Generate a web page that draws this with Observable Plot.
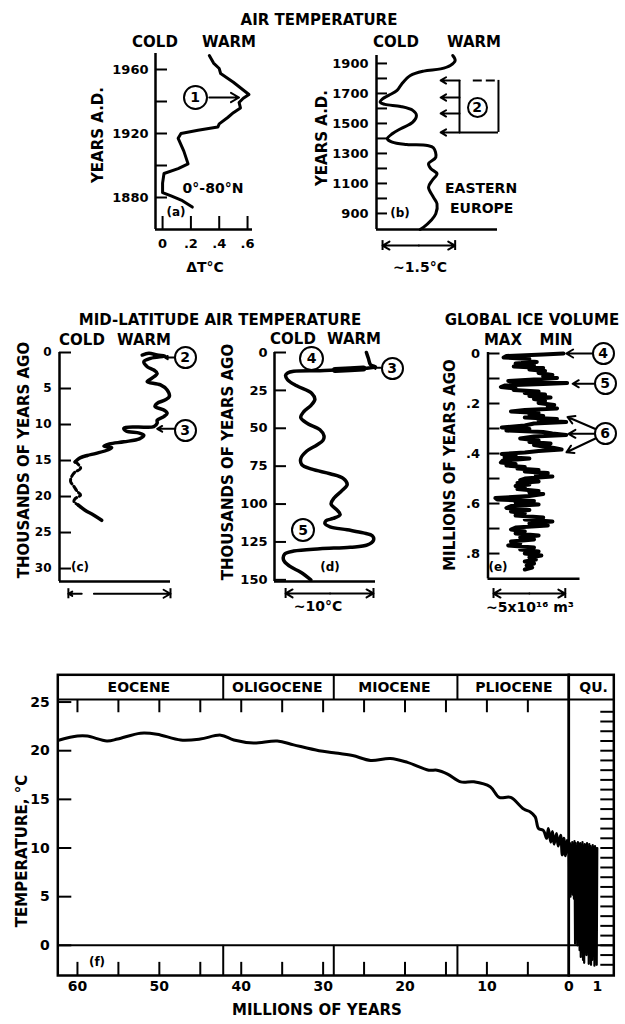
<!DOCTYPE html>
<html><head><meta charset="utf-8">
<script src="https://cdn.jsdelivr.net/npm/d3@7"></script>
<script src="https://cdn.jsdelivr.net/npm/@observablehq/plot@0.6"></script>
<style>
body{margin:0;background:#fff;}
#page{position:relative;width:625px;height:1024px;overflow:hidden;font-family:"DejaVu Sans",sans-serif;font-weight:bold;color:#000;background:#fff;}
.lbl{position:absolute;white-space:nowrap;line-height:1;}
.circ{position:absolute;border:2.5px solid #000;border-radius:50%;background:#fff;display:flex;align-items:center;justify-content:center;box-sizing:border-box;font-size:14px;line-height:1;}
</style></head><body><div id="page"></div>
<script>
// ---------------- DATA ----------------
// (a) 0-80N air temperature anomaly
const aYears  = [1968.75,1964,1960.6,1957.5,1952,1944.4,1942,1939.4,1936,1933,1930,1926,1924,1922,1920,1917,1909,1901,1898,1895,1889,1883,1881,1878,1874];
const aDeltaT = [0.33,0.36,0.40,0.41,0.50,0.61,0.57,0.54,0.55,0.50,0.46,0.40,0.39,0.25,0.13,0.11,0.15,0.18,0.11,0.01,0.00,0.00,0.06,0.14,0.21];
const aYearTicks = [1960,1940,1920,1900,1880];
const aYearLabels = [1960,1920,1880];
const aTempTicks = [0,0.2,0.4,0.6];
// (b) Eastern Europe (relative warmth 0..1)
const bYears  = [1953,1920,1887,1864,1849,1820,1765,1720,1687,1664,1642,1627,1613,1587,1553,1509,1465,1431,1398,1375,1360,1353,1338,1275,1231,1198,1165,1120,1075,1009,965,898,853,809,793];
const bWarmth = [0.63,0.65,0.61,0.53,0.39,0.28,0.21,0.17,0.10,0.05,0.03,0.07,0.20,0.30,0.33,0.30,0.20,0.13,0.09,0.13,0.25,0.42,0.47,0.49,0.43,0.45,0.50,0.46,0.43,0.47,0.50,0.49,0.45,0.39,0.36];
const bTicks = [900,1000,1100,1200,1300,1400,1500,1600,1700,1800,1900];
const bLabels = [900,1100,1300,1500,1700,1900];
const bMarkedYears = [1787,1673,1567,1440];
// (c) mid-latitude air temperature, last 25 kyr [kyr ago, warmth]
const cWarm = [[0.35,0.745],[0.12,0.805],[0.35,0.88],[0.49,0.95],[0.81,0.82],[1.27,0.76],[1.97,0.79],[2.43,0.85],[2.9,0.88],[3.6,0.83],[4.05,0.79],[4.5,0.91],[5.2,0.97],[6.1,0.99],[6.6,0.95],[7.06,0.88],[7.5,0.86],[7.99,0.94],[8.45,0.97],[8.9,0.94],[9.4,0.88],[9.8,0.88],[10.3,0.85],[10.35,0.70],[10.5,0.58],[10.9,0.60],[11.2,0.72],[11.5,0.76],[12.0,0.72],[12.4,0.58],[12.7,0.45],[13.0,0.40],[13.2,0.47],[13.5,0.44],[14.0,0.33],[14.3,0.25],[14.6,0.19],[14.9,0.16],[15.2,0.14]];
const cGlacial = [[15.2,0.14],[15.4,0.16],[16.1,0.19],[16.6,0.14],[17.2,0.11],[17.9,0.10],[18.6,0.13],[19.3,0.16],[19.8,0.19],[20.3,0.14],[20.7,0.13],[21.2,0.17]];
const cEnd = [[21.2,0.17],[21.9,0.23],[22.6,0.31],[23.3,0.38]];
const cTicks = [0,5,10,15,20,25,30];
// (d) mid-latitude air temperature, last 150 kyr [kyr ago, warmth]
const dCurve = [[0,0.91],[4,0.93],[8,0.95],[9.5,1.0],[10,0.95],[10.5,0.88],[11,0.75],[11.5,0.60],[12,0.45],[12.4,0.19],[13.5,0.13],[15,0.11],[18,0.13],[22,0.22],[27,0.37],[31,0.40],[35,0.36],[39,0.29],[43,0.26],[47,0.33],[51,0.45],[55,0.49],[58,0.48],[61,0.42],[65,0.32],[70,0.26],[74,0.27],[77,0.37],[80,0.55],[83,0.68],[87,0.72],[91,0.67],[96,0.59],[100,0.56],[104,0.62],[107,0.65],[109.5,0.58],[111,0.51],[113,0.50],[115,0.55],[117,0.72],[119,0.88],[121,0.97],[124,0.98],[127,0.92],[128.5,0.75],[129.5,0.45],[131,0.19],[133,0.10],[137,0.09],[141,0.15],[145,0.26],[150,0.36]];
const dTicks = [0,25,50,75,100,125,150];
// (e) global ice volume [Myr ago, 0=max ice .. 1=min ice]
const eCurve = [[0.000,0.82],[0.004,0.60],[0.010,0.20],[0.016,0.17],[0.022,0.45],[0.028,0.38],[0.034,0.53],[0.040,0.30],[0.046,0.50],[0.052,0.28],[0.058,0.60],[0.064,0.45],[0.070,0.62],[0.078,0.55],[0.086,0.70],[0.092,0.60],[0.098,0.75],[0.104,0.50],[0.110,0.22],[0.114,0.40],[0.118,0.86],[0.122,0.60],[0.128,0.18],[0.134,0.14],[0.140,0.30],[0.146,0.28],[0.152,0.55],[0.158,0.40],[0.164,0.62],[0.170,0.45],[0.176,0.68],[0.182,0.50],[0.190,0.62],[0.198,0.55],[0.206,0.72],[0.214,0.65],[0.220,0.75],[0.226,0.40],[0.232,0.25],[0.238,0.55],[0.244,0.45],[0.250,0.60],[0.256,0.40],[0.262,0.75],[0.268,0.55],[0.274,0.85],[0.280,0.50],[0.288,0.40],[0.296,0.15],[0.302,0.45],[0.308,0.20],[0.314,0.60],[0.320,0.70],[0.326,0.85],[0.332,0.50],[0.340,0.35],[0.348,0.55],[0.354,0.45],[0.360,0.68],[0.366,0.50],[0.372,0.60],[0.378,0.72],[0.384,0.80],[0.390,0.55],[0.396,0.40],[0.402,0.15],[0.408,0.30],[0.414,0.18],[0.420,0.45],[0.428,0.16],[0.436,0.14],[0.442,0.30],[0.448,0.20],[0.454,0.40],[0.460,0.32],[0.466,0.55],[0.472,0.40],[0.478,0.65],[0.486,0.52],[0.492,0.70],[0.500,0.40],[0.506,0.35],[0.512,0.55],[0.518,0.32],[0.524,0.45],[0.530,0.30],[0.536,0.40],[0.542,0.32],[0.550,0.55],[0.556,0.45],[0.562,0.60],[0.570,0.45],[0.578,0.08],[0.584,0.10],[0.590,0.50],[0.596,0.30],[0.604,0.55],[0.610,0.25],[0.618,0.20],[0.626,0.45],[0.632,0.25],[0.640,0.40],[0.648,0.30],[0.656,0.60],[0.664,0.40],[0.672,0.70],[0.680,0.45],[0.688,0.65],[0.696,0.30],[0.704,0.25],[0.712,0.40],[0.720,0.30],[0.728,0.55],[0.736,0.35],[0.744,0.50],[0.752,0.25],[0.760,0.35],[0.768,0.22],[0.776,0.50],[0.784,0.35],[0.792,0.55],[0.800,0.40],[0.808,0.58],[0.816,0.45],[0.824,0.52],[0.832,0.40],[0.840,0.50],[0.848,0.42],[0.856,0.48],[0.864,0.40]];
const eTicks = [0,0.1,0.2,0.3,0.4,0.5,0.6,0.7,0.8];
const eLabels = [0,0.2,0.4,0.6,0.8];
// (f) Cenozoic temperature [Myr ago, deg C]
const fMain = [[62.3,21.07],[60,21.5],[58.8,21.5],[56.4,21.0],[55.1,21.2],[52.3,21.8],[50.3,21.7],[47.4,21.1],[45,21.2],[42.5,21.6],[40.9,21.1],[38.5,20.8],[35.6,21.0],[33.6,20.6],[30.5,20.0],[28.7,19.8],[26.4,19.5],[24.2,19.0],[21.8,19.2],[19.7,18.8],[17.1,18.0],[16.1,18.0],[14.8,17.6],[13.2,16.8],[11.6,16.8],[9.6,16.3],[8.5,15.2],[7.1,15.2],[5.5,14.0],[4.7,13.7],[4.1,13.2],[3.7,12.0],[3.1,11.8],[2.7,11.0],[2.5,12.0],[2.2,10.6],[2.0,11.7],[1.8,10.4],[1.5,11.5],[1.3,10.2],[1.0,11.3],[0.8,9.3],[0.6,11.0],[0.4,9.2],[0.2,10.8],[0.0,9.5]];
const fQuaternary = [[0.00,10.2],[0.02,6.0],[0.04,10.5],[0.06,5.0],[0.08,10.3],[0.10,7.5],[0.12,10.6],[0.14,5.2],[0.16,10.4],[0.18,4.8],[0.20,10.7],[0.22,0.2],[0.24,10.5],[0.26,1.0],[0.28,10.2],[0.30,0.0],[0.32,10.6],[0.34,5.5],[0.36,10.4],[0.38,-0.5],[0.40,10.5],[0.42,-1.2],[0.44,10.3],[0.46,2.0],[0.48,10.6],[0.50,-1.5],[0.52,10.2],[0.54,-1.8],[0.56,10.4],[0.58,3.0],[0.60,10.3],[0.62,-1.0],[0.64,10.5],[0.66,1.5],[0.68,10.1],[0.70,-1.9],[0.72,10.4],[0.74,0.5],[0.76,10.2],[0.78,-2.0],[0.80,10.0],[0.82,-1.5],[0.84,10.3],[0.86,1.0],[0.88,10.1],[0.90,-2.1],[0.92,10.2],[0.94,-1.0],[0.96,10.0],[0.98,-2.0],[1.00,10.0]];
const epochNames = ["EOCENE","OLIGOCENE","MIOCENE","PLIOCENE"];
const epochCenters = [52.5,35.6,21.3,6.7];
const epochBounds = [42.2,28.7,13.6];
const fTempTicks = [0,5,10,15,20,25];
const fDegreeTicks = [-2,-1,0,1,2,3,4,5,6,7,8,9,10,11,12,13,14,15,16,17,18,19,20,21,22,23,24];
const fMyrTicks = [60,55,50,45,40,35,30,25,20,15,10,5];
const fMyrLabels = [60,50,40,30,20,10,0];

// ---------------- LAYOUT ----------------
const page = document.getElementById("page");
const STYLE = "position:absolute;left:0;top:0;background:transparent;overflow:visible;font-family:'DejaVu Sans',sans-serif;font-weight:bold;font-size:13px;color:#000;";
function dims(b){return {width:625,height:1024,marginLeft:b.l,marginRight:625-b.r,marginTop:b.t,marginBottom:1024-b.b,style:STYLE};}
function add(svg){page.appendChild(svg);}
const T = {fontSize:13,fontWeight:"bold",label:null,tickSize:0};
const decFmt = d => d === 0 ? "0" : d3.format(".1f")(d).replace(/^0/,"");
const LW = {strokeWidth:2.5};

// (a)
const boxA = {l:155,r:252,t:53,b:229};
const aX = [-0.05,0.635], aY = [1860,1970];
add(Plot.plot({...dims(boxA), x:{domain:aX}, y:{domain:aY}, marks:[
  Plot.ruleX([aX[0]], LW), Plot.ruleY([aY[0]], LW),
  Plot.tickY(aYearTicks, {y:d=>d, insetRight:(boxA.r-boxA.l)-12, strokeWidth:2}),
  Plot.tickX(aTempTicks, {x:d=>d, insetTop:(boxA.b-boxA.t)-13, strokeWidth:2}),
  Plot.axisY(aYearLabels, {...T, anchor:"left", tickPadding:7, tickFormat:d=>String(d)}),
  Plot.axisX(aTempTicks, {...T, anchor:"bottom", tickPadding:9, tickFormat:decFmt}),
  Plot.line(aYears.map((y,i)=>[aDeltaT[i],y]), {x:d=>d[0], y:d=>d[1], strokeWidth:3, strokeLinejoin:"round"}),
  Plot.arrow([{x1:0.33,x2:0.54,y:1942.5}], {x1:"x1",x2:"x2",y1:"y",y2:"y",strokeWidth:2,headLength:7})
]}));

// (b)
const boxB = {l:376,r:497,t:55,b:229};
const bY = [793,1953];
add(Plot.plot({...dims(boxB), x:{domain:[0,1],axis:null}, y:{domain:bY}, marks:[
  Plot.ruleX([0], LW), Plot.ruleY([bY[0]], LW),
  Plot.tickY(bTicks, {y:d=>d, insetRight:(boxB.r-boxB.l)-11, strokeWidth:2}),
  Plot.axisY(bLabels, {...T, anchor:"left", tickPadding:8, tickFormat:d=>String(d)}),
  Plot.line(bYears.map((y,i)=>[bWarmth[i],y]), {x:d=>d[0], y:d=>d[1], strokeWidth:3, curve:"catmull-rom"}),
  Plot.arrow(bMarkedYears, {x1:()=>0.686, x2:()=>0.53, y1:d=>d, y2:d=>d, strokeWidth:2, headLength:6}),
  Plot.ruleX([0.686], {y1:bMarkedYears[0], y2:bMarkedYears[3], strokeWidth:2}),
  Plot.ruleX([1.008], {y1:bMarkedYears[0], y2:bMarkedYears[3], strokeWidth:2}),
  Plot.ruleY([bMarkedYears[0]], {x1:0.80, x2:1.008, strokeWidth:2, strokeDasharray:"9,4"}),
  Plot.ruleY([bMarkedYears[3]], {x1:0.686, x2:1.008, strokeWidth:2}),
  Plot.arrow([{a:0.35,b:0.05},{a:0.35,b:0.65}], {x1:"a", x2:"b", y1:()=>686, y2:()=>686, strokeWidth:2, headLength:6}),
  Plot.ruleX([0.05,0.65], {y1:653, y2:719, strokeWidth:2})
]}));

// (c)
const boxC = {l:59,r:170,t:352,b:581};
const cY = [0,31.8];
add(Plot.plot({...dims(boxC), x:{domain:[0,1],axis:null}, y:{domain:cY, reverse:true}, marks:[
  Plot.ruleX([0], LW), Plot.ruleY([cY[1]], LW),
  Plot.tickY(cTicks, {y:d=>d, insetRight:(boxC.r-boxC.l)-12, strokeWidth:2}),
  Plot.axisY(cTicks, {...T, fontSize:12, anchor:"left", tickPadding:8}),
  Plot.line(cWarm, {x:d=>d[1], y:d=>d[0], strokeWidth:3.5, curve:"catmull-rom"}),
  Plot.line(cGlacial, {x:d=>d[1], y:d=>d[0], strokeWidth:3, strokeDasharray:"5,3", curve:"catmull-rom"}),
  Plot.line(cEnd, {x:d=>d[1], y:d=>d[0], strokeWidth:3.5, curve:"catmull-rom"}),
  Plot.arrow([{a:1.036,b:0.95,k:0.7},{a:1.036,b:0.88,k:10.6}], {x1:"a",x2:"b",y1:"k",y2:"k",strokeWidth:2,headLength:6}),
  Plot.arrow([{a:0.20,b:0.08},{a:0.31,b:1.0}], {x1:"a",x2:"b",y1:()=>33.5,y2:()=>33.5,strokeWidth:2,headLength:6}),
  Plot.ruleX([0.08,1.0], {y1:32.8, y2:34.2, strokeWidth:2})
]}));

// (d)
const boxD = {l:274,r:375,t:352,b:581};
const dY = [0,151.1];
add(Plot.plot({...dims(boxD), x:{domain:[0,1],axis:null}, y:{domain:dY, reverse:true}, marks:[
  Plot.ruleX([0], LW), Plot.ruleY([dY[1]], LW),
  Plot.tickY(dTicks, {y:d=>d, insetRight:(boxD.r-boxD.l)-12, strokeWidth:2}),
  Plot.axisY(dTicks, {...T, anchor:"left", tickPadding:7}),
  Plot.line(dCurve, {x:d=>d[1], y:d=>d[0], strokeWidth:3.5, curve:"catmull-rom"}),
  Plot.line(dCurve.filter(d=>d[0]>=10.5 && d[0]<=11.5), {x:d=>d[1], y:d=>d[0], strokeWidth:6}),
  Plot.arrow([{a:1.05,b:0.98,k:10}], {x1:"a",x2:"b",y1:"k",y2:"k",strokeWidth:2,headLength:5}),
  Plot.arrow([{a:0.55,b:0.11},{a:0.55,b:0.98}], {x1:"a",x2:"b",y1:()=>159,y2:()=>159,strokeWidth:2,headLength:6}),
  Plot.ruleX([0.11,0.98], {y1:155.7, y2:162.3, strokeWidth:2})
]}));

// (e)
const boxE = {l:487.5,r:579.5,t:352,b:578.3};
const eY = [-0.004,0.901];
add(Plot.plot({...dims(boxE), x:{domain:[0,1],axis:null}, y:{domain:eY, reverse:true}, marks:[
  Plot.ruleX([0], LW), Plot.ruleY([eY[1]], LW),
  Plot.tickY(eTicks, {y:d=>d, insetRight:(boxE.r-boxE.l)-12, strokeWidth:2}),
  Plot.axisY(eLabels, {...T, anchor:"left", tickPadding:8, tickFormat:decFmt}),
  Plot.line(eCurve, {x:d=>d[1], y:d=>d[0], strokeWidth:4, strokeLinejoin:"round"}),
  Plot.arrow([{a:1.136,b:0.85,m:0},{a:1.15,b:0.92,m:0.121},{a:1.168,b:0.864,m:0.302,n:0.254},{a:1.158,b:0.875,m:0.321,n:0.321},{a:1.168,b:0.853,m:0.34,n:0.395}],
    {x1:"a",x2:"b",y1:"m",y2:d=>d.n ?? d.m,strokeWidth:2,headLength:6}),
  Plot.arrow([{a:0.45,b:0.06},{a:0.45,b:0.84}], {x1:"a",x2:"b",y1:()=>0.96,y2:()=>0.96,strokeWidth:2,headLength:6}),
  Plot.ruleX([0.06,0.84], {y1:0.94, y2:0.98, strokeWidth:2})
]}));

// (f) main
const boxF = {l:57.3,r:568.3,t:674.3,b:975};
const fX = [62.4,0], fY = [-3.1,27.8], band = 25.25;
add(Plot.plot({...dims(boxF), x:{domain:fX}, y:{domain:fY}, marks:[
  Plot.frame({strokeWidth:2.5}),
  Plot.ruleY([band, 0], {strokeWidth:2}),
  Plot.ruleX(epochBounds, {x:d=>d, y1:band, y2:fY[1], strokeWidth:2}),
  Plot.ruleX(epochBounds, {x:d=>d, y1:fY[0], y2:0, strokeWidth:2}),
  Plot.ruleX(fMyrTicks, {x:d=>d, y1:band, y2:band-1.35, strokeWidth:2}),
  Plot.ruleX(fMyrTicks, {x:d=>d, y1:fY[0], y2:fY[0]+1.35, strokeWidth:2}),
  Plot.tickY(fTempTicks, {y:d=>d, insetRight:(boxF.r-boxF.l)-14, strokeWidth:2}),
  Plot.axisY(fTempTicks, {...T, fontSize:14, anchor:"left", tickPadding:8}),
  Plot.axisX(fMyrLabels, {...T, fontSize:14, anchor:"bottom", tickPadding:6}),
  Plot.text(epochNames, {x:(d,i)=>epochCenters[i], y:()=>26.45, text:d=>d, fontSize:14, fontWeight:"bold"}),
  Plot.line(fMain, {x:d=>d[0], y:d=>d[1], strokeWidth:3, curve:"catmull-rom"})
]}));

// (f) Quaternary expanded
const boxQ = {l:568.3,r:613.3,t:674.3,b:975};
const qX = [0,1.58];
add(Plot.plot({...dims(boxQ), x:{domain:qX}, y:{domain:fY, axis:null}, marks:[
  Plot.frame({strokeWidth:2.5}),
  Plot.ruleY([band, 0], {strokeWidth:2}),
  Plot.tickY(fDegreeTicks, {y:d=>d, insetLeft:(boxQ.r-boxQ.l)-13, strokeWidth:2}),
  Plot.axisX([1], {...T, fontSize:14, anchor:"bottom", tickPadding:6}),
  Plot.text(["QU."], {x:()=>0.87, y:()=>26.45, text:d=>d, fontSize:14, fontWeight:"bold"}),
  Plot.line(fQuaternary, {x:d=>d[0], y:d=>d[1], strokeWidth:2.2})
]}));

// ---------------- TEXT ----------------
function lbl(t, x, y, size=15, opts={}){
  const d = document.createElement("div");
  d.className = "lbl";
  d.textContent = t;
  d.style.left = x + "px"; d.style.top = y + "px";
  d.style.fontSize = size + "px";
  const tx = opts.left ? "0" : "-50%";
  d.style.transform = `translate(${tx},-50%)` + (opts.rot ? ` rotate(${opts.rot}deg)` : "");
  page.appendChild(d);
}
function circ(t, x, y, r=11.5){
  const d = document.createElement("div");
  d.className = "circ";
  d.textContent = t;
  d.style.left = (x-r)+"px"; d.style.top = (y-r)+"px";
  d.style.width = (2*r)+"px"; d.style.height = (2*r)+"px";
  page.appendChild(d);
}
lbl("AIR TEMPERATURE", 319, 20);
lbl("COLD", 155, 42); lbl("WARM", 229, 42);
lbl("YEARS A.D.", 98, 135, 15, {rot:-90});
lbl("ΔT°C", 205, 267, 14);
lbl("0°-80°N", 213, 188, 14);
lbl("(a)", 176, 212, 12);
lbl("COLD", 396, 42); lbl("WARM", 474, 42);
lbl("YEARS A.D.", 322, 138, 15, {rot:-90});
lbl("EASTERN", 445, 188, 14, {left:true});
lbl("EUROPE", 450, 208, 14, {left:true});
lbl("(b)", 400, 213, 12);
lbl("~1.5°C", 420, 267, 14);
lbl("MID-LATITUDE AIR TEMPERATURE", 220, 320);
lbl("COLD", 82, 340); lbl("WARM", 144, 340);
lbl("THOUSANDS OF YEARS AGO", 24, 460, 15, {rot:-90});
lbl("(c)", 80, 567, 12);
lbl("COLD", 293, 339); lbl("WARM", 354, 339);
lbl("THOUSANDS OF YEARS AGO", 228, 462, 15, {rot:-90});
lbl("(d)", 330, 567, 12);
lbl("~10°C", 318, 606, 14);
lbl("GLOBAL ICE VOLUME", 532, 320);
lbl("MAX", 503, 340); lbl("MIN", 556, 340);
lbl("MILLIONS OF YEARS AGO", 450, 465, 15, {rot:-90});
lbl("(e)", 498, 567, 12);
lbl("~5x10¹⁶ m³", 530, 607, 14);
lbl("TEMPERATURE, °C", 22, 851, 15, {rot:-90});
lbl("MILLIONS OF YEARS", 317, 1010);
lbl("(f)", 97, 962, 12);
circ("1", 195, 97, 12.5);
circ("2", 477, 107, 10.5);
circ("2", 185, 357); circ("3", 185, 430);
circ("4", 311.7, 358, 12.5); circ("3", 392, 368); circ("5", 303, 530, 12);
circ("4", 603, 353); circ("5", 605, 383); circ("6", 605, 433);
</script></body></html>
